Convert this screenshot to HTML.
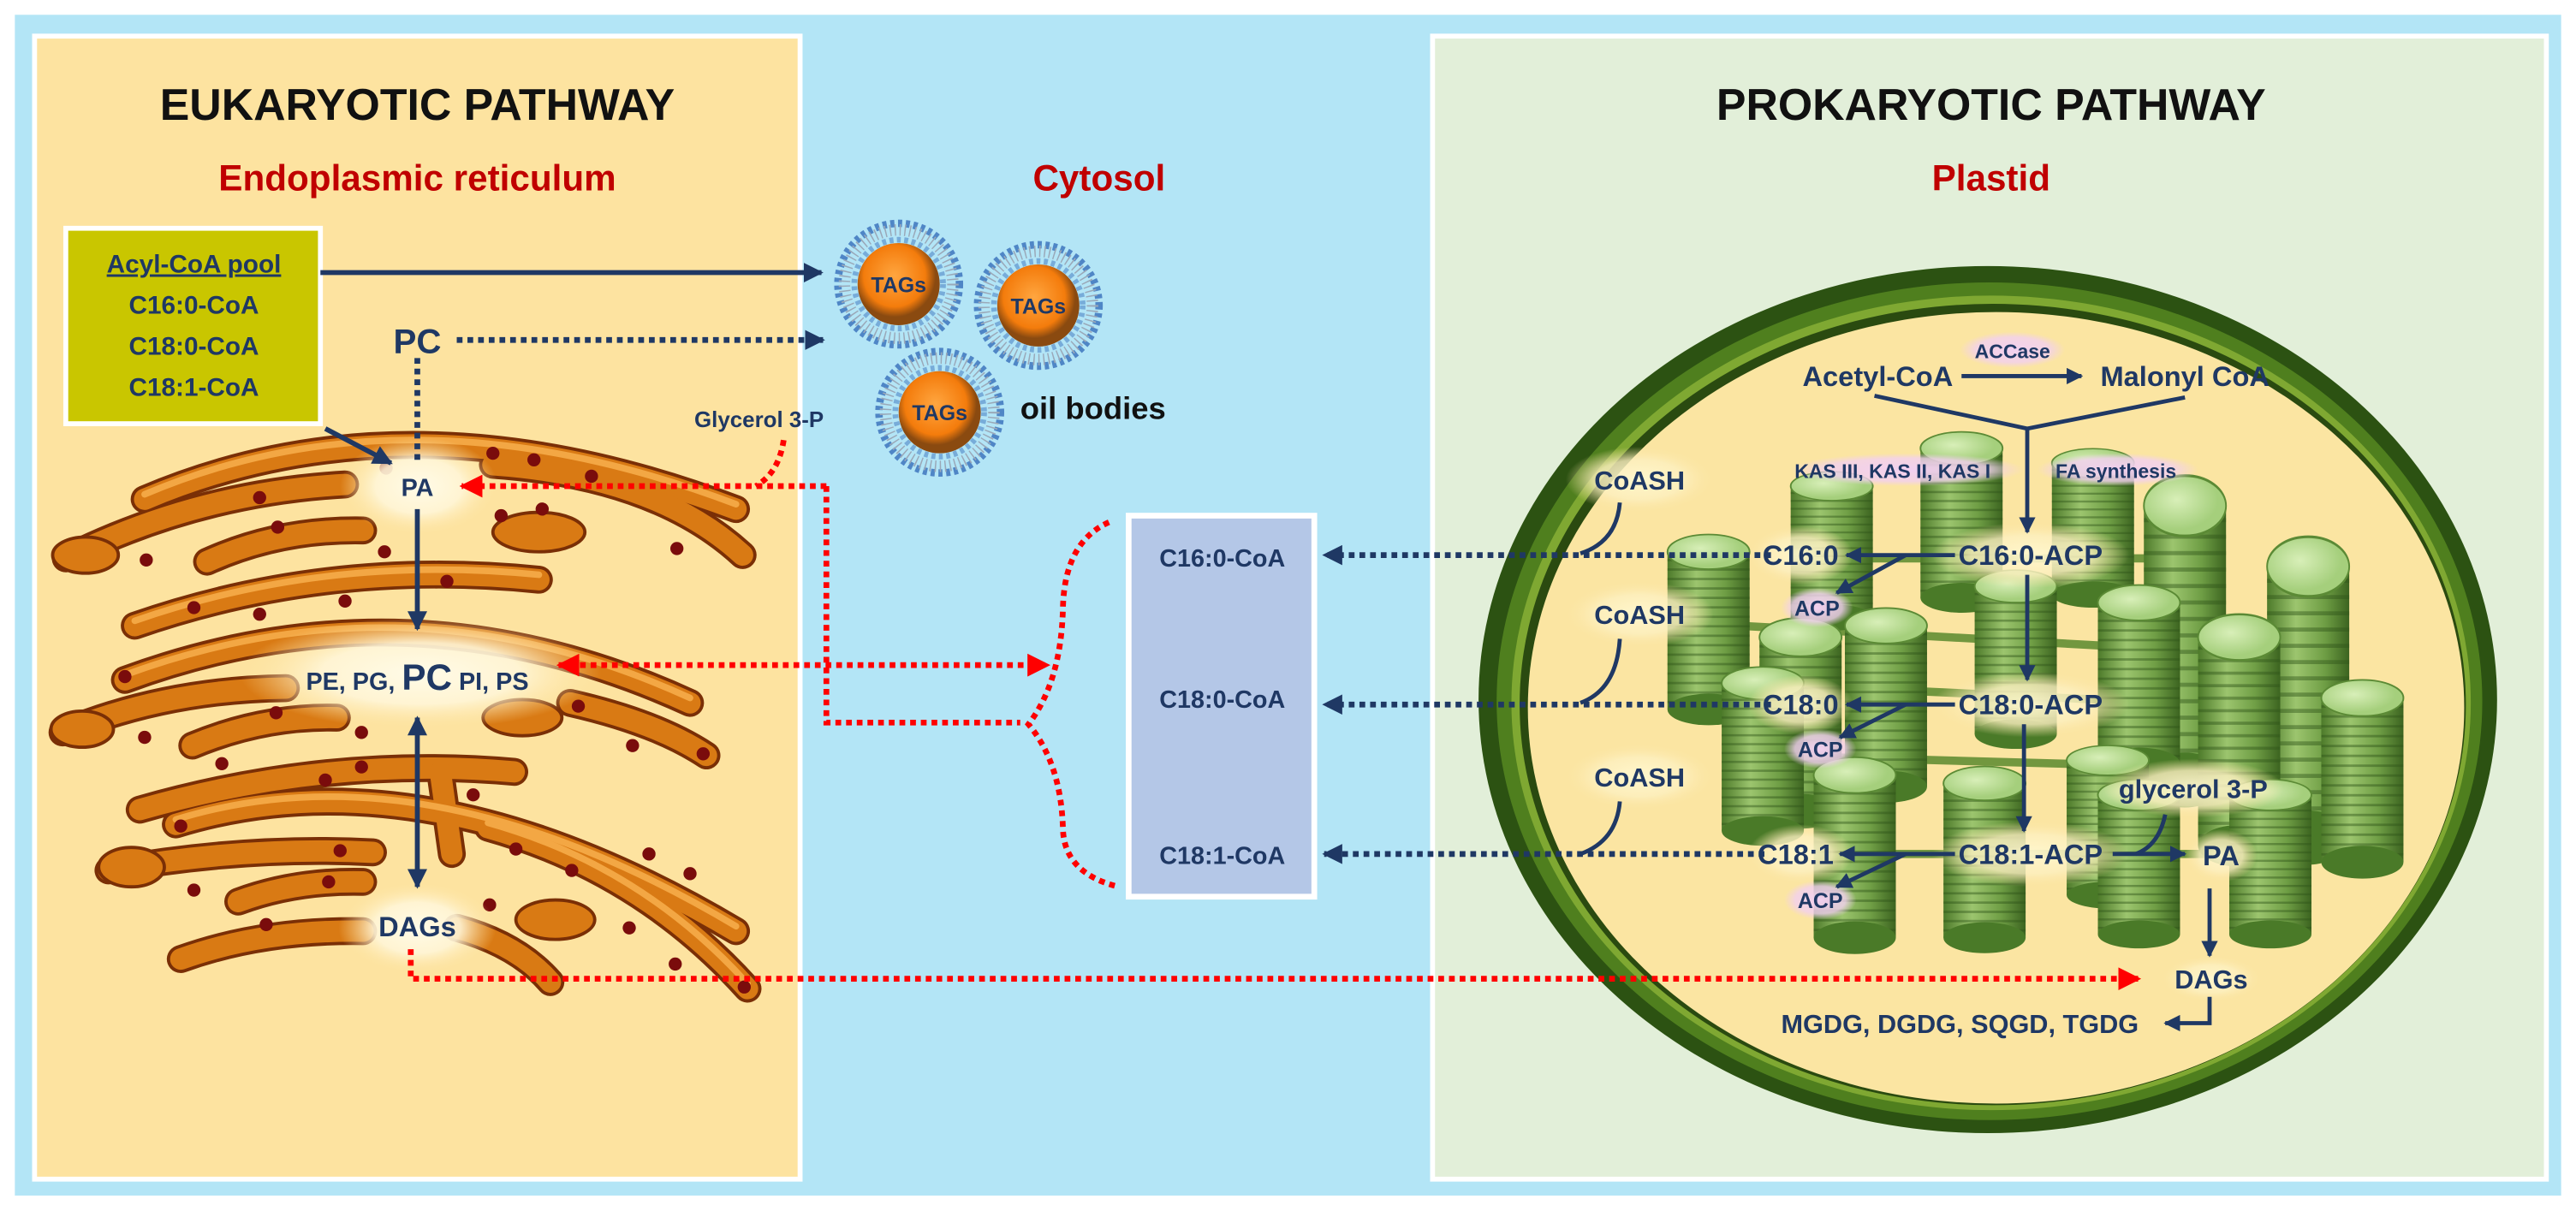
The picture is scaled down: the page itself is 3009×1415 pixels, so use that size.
<!DOCTYPE html>
<html><head><meta charset="utf-8">
<style>
html,body{margin:0;padding:0;background:#fff;}
svg{display:block;}
text{font-family:"Liberation Sans",sans-serif;font-weight:bold;}
</style></head>
<body>
<svg width="3009" height="1415" viewBox="0 0 1568 737.4" xmlns="http://www.w3.org/2000/svg">
<defs>
<marker id="an" viewBox="0 0 10 10" refX="9" refY="5" markerWidth="4" markerHeight="4" orient="auto-start-reverse" markerUnits="strokeWidth"><path d="M0,0 L10,5 L0,10 z" fill="#1f3864"/></marker>
<marker id="an2" viewBox="0 0 10 10" refX="9" refY="5" markerWidth="3.5" markerHeight="3.5" orient="auto-start-reverse" markerUnits="strokeWidth"><path d="M0,0 L10,5 L0,10 z" fill="#1f3864"/></marker>
<marker id="ar" viewBox="0 0 10 10" refX="9" refY="5" markerWidth="4" markerHeight="4" orient="auto-start-reverse" markerUnits="strokeWidth"><path d="M0,0 L10,5 L0,10 z" fill="#ff0000"/></marker>
<radialGradient id="glow"><stop offset="0" stop-color="#fffbe8" stop-opacity="1"/><stop offset="0.55" stop-color="#fff6d8" stop-opacity="0.9"/><stop offset="1" stop-color="#fde3a0" stop-opacity="0"/></radialGradient>
<radialGradient id="gglow"><stop offset="0" stop-color="#fff8d0" stop-opacity="0.95"/><stop offset="0.6" stop-color="#fdf0c0" stop-opacity="0.8"/><stop offset="1" stop-color="#fbe6a6" stop-opacity="0"/></radialGradient>
<radialGradient id="pglow"><stop offset="0" stop-color="#f2d0f0" stop-opacity="1"/><stop offset="0.7" stop-color="#f2d0f0" stop-opacity="0.8"/><stop offset="1" stop-color="#f2d0f0" stop-opacity="0"/></radialGradient>
<radialGradient id="tag" cx="0.45" cy="0.4"><stop offset="0" stop-color="#ffa640"/><stop offset="0.75" stop-color="#f47c0c"/><stop offset="1" stop-color="#8a4a10"/></radialGradient>
<linearGradient id="cyl" x1="0" x2="1"><stop offset="0" stop-color="#4d7a2a"/><stop offset="0.35" stop-color="#9cc56e"/><stop offset="0.7" stop-color="#6f9e45"/><stop offset="1" stop-color="#3c6420"/></linearGradient>
<radialGradient id="cyltop" cx="0.4" cy="0.4"><stop offset="0" stop-color="#d8efb8"/><stop offset="1" stop-color="#a5cf7c"/></radialGradient>
<pattern id="stripes" width="10" height="6" patternUnits="userSpaceOnUse"><rect width="10" height="6" fill="none"/><rect y="4.5" width="10" height="1.5" fill="#2f5418" opacity="0.45"/></pattern>
<g id="cy">
<rect x="-25" y="0" width="50" height="100" fill="url(#cyl)"/>
<rect x="-25" y="0" width="50" height="100" fill="url(#stripes)"/>
<ellipse cx="0" cy="100" rx="25" ry="10" fill="#4a7a28"/>
<ellipse cx="0" cy="0" rx="25" ry="11" fill="url(#cyltop)" stroke="#5b8a35" stroke-width="1"/>
</g>
<g id="ob">
<circle r="37" fill="none" stroke="#4f86c6" stroke-width="4.5" stroke-dasharray="2.5 2.2"/>
<circle r="33" fill="none" stroke="#9aa8b8" stroke-width="7" stroke-dasharray="0.8 2.2"/>
<circle r="27" fill="none" stroke="#4f86c6" stroke-width="3.5" stroke-dasharray="2.4 2.1" opacity="0.6"/>
<circle r="25" fill="url(#tag)"/>
</g>
</defs>

<rect x="0" y="0" width="1568" height="737.4" fill="#ffffff"/>
<rect x="9" y="9" width="1550" height="719" fill="#b3e5f6"/>
<rect x="21" y="22" width="466" height="696" fill="#fde3a0" stroke="#ffffff" stroke-width="3"/>
<rect x="872" y="22" width="678" height="696" fill="#e2efd9" stroke="#ffffff" stroke-width="3"/>

<text x="254" y="73" font-size="27" text-anchor="middle" fill="#111">EUKARYOTIC PATHWAY</text>
<text x="254" y="116" font-size="22" text-anchor="middle" fill="#c00000">Endoplasmic reticulum</text>
<text x="669" y="116" font-size="22" text-anchor="middle" fill="#c00000">Cytosol</text>
<text x="1212" y="73" font-size="27" text-anchor="middle" fill="#111">PROKARYOTIC PATHWAY</text>
<text x="1212" y="116" font-size="22" text-anchor="middle" fill="#c00000">Plastid</text>

<!-- ER tubes -->
<g fill="none" stroke-linecap="round">
<g stroke="#7a2f06" stroke-width="17">
<path d="M88,304 Q250,235 448,310"/>
<path d="M300,283 Q400,290 452,338"/>
<path d="M40,340 Q120,300 210,295"/>
<path d="M126,342 Q170,322 221,323"/>
<path d="M82,381 Q200,340 328,353"/>
<path d="M76,414 Q250,350 420,428"/>
<path d="M38,446 Q100,420 174,419"/>
<path d="M117,454 Q160,436 205,437"/>
<path d="M347,428 Q400,440 430,460"/>
<path d="M85,493 Q200,460 313,470"/>
<path d="M107,502 Q260,455 448,567"/>
<path d="M66,530 Q150,515 227,519"/>
<path d="M145,549 Q180,536 221,537"/>
<path d="M110,584 Q160,566 221,567"/>
<path d="M278,565 Q315,575 335,598"/>
<path d="M297,504 Q390,530 455,602"/>
<path d="M268,470 L275,520"/>
</g>
<g stroke="#d97a14" stroke-width="13">
<path d="M88,304 Q250,235 448,310"/>
<path d="M300,283 Q400,290 452,338"/>
<path d="M40,340 Q120,300 210,295"/>
<path d="M126,342 Q170,322 221,323"/>
<path d="M82,381 Q200,340 328,353"/>
<path d="M76,414 Q250,350 420,428"/>
<path d="M38,446 Q100,420 174,419"/>
<path d="M117,454 Q160,436 205,437"/>
<path d="M347,428 Q400,440 430,460"/>
<path d="M85,493 Q200,460 313,470"/>
<path d="M107,502 Q260,455 448,567"/>
<path d="M66,530 Q150,515 227,519"/>
<path d="M145,549 Q180,536 221,537"/>
<path d="M110,584 Q160,566 221,567"/>
<path d="M278,565 Q315,575 335,598"/>
<path d="M297,504 Q390,530 455,602"/>
<path d="M268,470 L275,520"/>
</g>
<g stroke="#f3a744" stroke-width="4">
<path d="M88,301 Q250,232 448,307"/>
<path d="M82,378 Q200,337 328,350"/>
<path d="M76,411 Q250,347 420,425"/>
<path d="M107,499 Q260,452 448,564"/>
<path d="M297,501 Q390,527 455,599"/>
</g>
</g>
<g fill="#d97a14" stroke="#7a2f06" stroke-width="2">
<ellipse cx="52" cy="338" rx="20" ry="11"/>
<ellipse cx="50" cy="444" rx="19" ry="11"/>
<ellipse cx="80" cy="528" rx="20" ry="12"/>
<ellipse cx="328" cy="324" rx="28" ry="12"/>
<ellipse cx="318" cy="437" rx="24" ry="11"/>
<ellipse cx="338" cy="560" rx="24" ry="12"/>
</g>
<g fill="#7a0c0c">
<circle cx="158" cy="303" r="4"/><circle cx="89" cy="341" r="4"/><circle cx="169" cy="321" r="4"/><circle cx="235" cy="285" r="4"/><circle cx="300" cy="276" r="4"/><circle cx="325" cy="280" r="4"/><circle cx="360" cy="290" r="4"/><circle cx="330" cy="310" r="4"/><circle cx="305" cy="314" r="4"/><circle cx="412" cy="334" r="4"/><circle cx="234" cy="336" r="4"/><circle cx="272" cy="354" r="4"/><circle cx="118" cy="370" r="4"/><circle cx="158" cy="374" r="4"/><circle cx="210" cy="366" r="4"/><circle cx="76" cy="412" r="4"/><circle cx="88" cy="449" r="4"/><circle cx="168" cy="434" r="4"/><circle cx="220" cy="446" r="4"/><circle cx="352" cy="430" r="4"/><circle cx="385" cy="454" r="4"/><circle cx="428" cy="459" r="4"/><circle cx="135" cy="465" r="4"/><circle cx="198" cy="475" r="4"/><circle cx="220" cy="467" r="4"/><circle cx="288" cy="484" r="4"/><circle cx="110" cy="503" r="4"/><circle cx="207" cy="518" r="4"/><circle cx="200" cy="537" r="4"/><circle cx="118" cy="542" r="4"/><circle cx="162" cy="563" r="4"/><circle cx="314" cy="517" r="4"/><circle cx="348" cy="530" r="4"/><circle cx="395" cy="520" r="4"/><circle cx="420" cy="532" r="4"/><circle cx="298" cy="551" r="4"/><circle cx="383" cy="565" r="4"/><circle cx="411" cy="587" r="4"/><circle cx="453" cy="601" r="4"/>
</g>
<ellipse cx="255" cy="296" rx="48" ry="30" fill="url(#glow)"/>
<ellipse cx="256" cy="410" rx="110" ry="34" fill="url(#glow)"/>
<ellipse cx="254" cy="565" rx="48" ry="28" fill="url(#glow)"/>

<rect x="40" y="139" width="155" height="119" fill="#c9c600" stroke="#ffffff" stroke-width="3"/>
<g font-size="15.5" fill="#1f3864" text-anchor="middle">
<text x="118" y="166" text-decoration="underline">Acyl-CoA pool</text>
<text x="118" y="191">C16:0-CoA</text>
<text x="118" y="216">C18:0-CoA</text>
<text x="118" y="241">C18:1-CoA</text>
</g>

<line x1="195" y1="166" x2="500" y2="166" stroke="#1f3864" stroke-width="3" marker-end="url(#an)"/>
<line x1="278" y1="207" x2="501" y2="207" stroke="#1f3864" stroke-width="3.5" stroke-dasharray="3.5 3" marker-end="url(#an2)"/>
<line x1="254" y1="218" x2="254" y2="283" stroke="#1f3864" stroke-width="3.5" stroke-dasharray="3.5 3"/>
<line x1="198" y1="261" x2="238" y2="282" stroke="#1f3864" stroke-width="3" marker-end="url(#an)"/>
<line x1="254" y1="310" x2="254" y2="383" stroke="#1f3864" stroke-width="3" marker-end="url(#an)"/>
<line x1="254" y1="437" x2="254" y2="540" stroke="#1f3864" stroke-width="3" marker-start="url(#an)" marker-end="url(#an)"/>
<text x="254" y="215" font-size="21" text-anchor="middle" fill="#1f3864">PC</text>
<text x="254" y="302" font-size="15" text-anchor="middle" fill="#1f3864">PA</text>
<text x="254" y="420" text-anchor="middle" fill="#1f3864"><tspan font-size="15">PE, PG, </tspan><tspan font-size="22">PC</tspan><tspan font-size="15"> PI, PS</tspan></text>
<text x="254" y="570" font-size="17" text-anchor="middle" fill="#1f3864">DAGs</text>
<text x="462" y="260" font-size="13.5" text-anchor="middle" fill="#1f3864" font-weight="normal">Glycerol 3-P</text>

<g fill="none" stroke="#ff0000" stroke-width="3.5" stroke-dasharray="3.5 3">
<path d="M477,268 Q474,288 460,296"/>
<line x1="503" y1="296" x2="281" y2="296" marker-end="url(#ar)"/>
<path d="M503,296 L503,440 L621,440"/>
<line x1="340" y1="405" x2="638" y2="405" marker-start="url(#ar)" marker-end="url(#ar)"/>
<path d="M675,318 Q648,330 647,370 Q646,415 626,441 Q646,465 647,505 Q648,532 681,540"/>
</g>

<use href="#ob" x="547" y="173"/>
<use href="#ob" x="632" y="186"/>
<use href="#ob" x="572" y="251"/>
<g font-size="13" fill="#1f3864" text-anchor="middle">
<text x="547" y="178">TAGs</text><text x="632" y="191">TAGs</text><text x="572" y="256">TAGs</text>
</g>
<text x="621" y="255" font-size="19" fill="#111">oil bodies</text>

<rect x="687" y="314" width="113" height="232" fill="#b4c7e7" stroke="#ffffff" stroke-width="3.5"/>
<g font-size="15" fill="#1f3864" text-anchor="middle">
<text x="744" y="345">C16:0-CoA</text>
<text x="744" y="431">C18:0-CoA</text>
<text x="744" y="526">C18:1-CoA</text>
</g>

<!-- plastid -->
<ellipse cx="1210" cy="426" rx="310" ry="264" fill="#2c5212"/>
<ellipse cx="1211" cy="427" rx="300" ry="255" fill="#4f7f1e"/>
<ellipse cx="1212" cy="428" rx="292" ry="248" fill="#7fa832"/>
<ellipse cx="1213" cy="429" rx="288" ry="244" fill="#2a4a10"/>
<ellipse cx="1215" cy="431" rx="285" ry="241" fill="#fbe5a2"/>

<g stroke="#5b8a2e" stroke-width="5" opacity="0.85">
<line x1="1115" y1="340" x2="1330" y2="340"/>
<line x1="1040" y1="380" x2="1405" y2="400"/>
<line x1="1073" y1="460" x2="1438" y2="470"/>
<line x1="1148" y1="420" x2="1363" y2="430"/>
<line x1="1129" y1="520" x2="1382" y2="520"/>
</g>
<use href="#cy" transform="translate(1194,273) scale(1,0.91)"/>
<use href="#cy" transform="translate(1274,282) scale(1,0.8)"/>
<use href="#cy" transform="translate(1115,296) scale(1,0.8)"/>
<use href="#cy" transform="translate(1330,308) scale(1,1.67)"/>
<use href="#cy" transform="translate(1040,336) scale(1,0.96)"/>
<use href="#cy" transform="translate(1405,345) scale(1,1.65)"/>
<use href="#cy" transform="translate(1227,357) scale(1,0.9)"/>
<use href="#cy" transform="translate(1302,367) scale(1,0.98)"/>
<use href="#cy" transform="translate(1148,381) scale(1,0.98)"/>
<use href="#cy" transform="translate(1096,388) scale(1,1.06)"/>
<use href="#cy" transform="translate(1363,388) scale(1,1.27)"/>
<use href="#cy" transform="translate(1073,416) scale(1,0.9)"/>
<use href="#cy" transform="translate(1438,425) scale(1,1.0)"/>
<use href="#cy" transform="translate(1283,463) scale(1,0.82)"/>
<use href="#cy" transform="translate(1129,472) scale(1,0.99)"/>
<use href="#cy" transform="translate(1208,477) scale(1,0.94)"/>
<use href="#cy" transform="translate(1302,484) scale(1,0.85)"/>
<use href="#cy" transform="translate(1382,484) scale(1,0.85)"/>

<ellipse cx="998" cy="292" rx="45" ry="20" fill="url(#gglow)"/>
<ellipse cx="998" cy="374" rx="45" ry="20" fill="url(#gglow)"/>
<ellipse cx="998" cy="473" rx="45" ry="20" fill="url(#gglow)"/>
<ellipse cx="1236" cy="338" rx="60" ry="20" fill="url(#gglow)"/>
<ellipse cx="1236" cy="429" rx="60" ry="20" fill="url(#gglow)"/>
<ellipse cx="1236" cy="520" rx="60" ry="20" fill="url(#gglow)"/>
<ellipse cx="1096" cy="338" rx="32" ry="18" fill="url(#gglow)"/>
<ellipse cx="1096" cy="429" rx="32" ry="18" fill="url(#gglow)"/>
<ellipse cx="1096" cy="520" rx="32" ry="18" fill="url(#gglow)"/>
<ellipse cx="1335" cy="480" rx="55" ry="18" fill="url(#gglow)"/>
<ellipse cx="1352" cy="521" rx="22" ry="16" fill="url(#gglow)"/>
<ellipse cx="1346" cy="596" rx="30" ry="14" fill="url(#gglow)"/>
<rect x="1090" y="276" width="142" height="20" rx="8" fill="url(#pglow)"/>
<rect x="1240" y="276" width="98" height="20" rx="8" fill="url(#pglow)"/>
<ellipse cx="1225" cy="213" rx="32" ry="11" fill="url(#pglow)"/>
<ellipse cx="1106" cy="370" rx="22" ry="12" fill="url(#pglow)"/>
<ellipse cx="1108" cy="456" rx="22" ry="12" fill="url(#pglow)"/>
<ellipse cx="1108" cy="548" rx="22" ry="12" fill="url(#pglow)"/>

<!-- red DAG line on top -->
<path d="M250,578 L250,596 L1302,596" fill="none" stroke="#ff0000" stroke-width="3.5" stroke-dasharray="3.5 3" marker-end="url(#ar)"/>

<g fill="#1f3864">
<text x="1143" y="235" font-size="17" text-anchor="middle">Acetyl-CoA</text>
<text x="1330" y="235" font-size="17" text-anchor="middle">Malonyl CoA</text>
<text x="1225" y="218" font-size="12" text-anchor="middle">ACCase</text>
<text x="1152" y="291" font-size="12" text-anchor="middle">KAS III, KAS II, KAS I</text>
<text x="1288" y="291" font-size="12" text-anchor="middle">FA synthesis</text>
<text x="998" y="298" font-size="16" text-anchor="middle">CoASH</text>
<text x="998" y="380" font-size="16" text-anchor="middle">CoASH</text>
<text x="998" y="479" font-size="16" text-anchor="middle">CoASH</text>
<text x="1236" y="344" font-size="17" text-anchor="middle">C16:0-ACP</text>
<text x="1236" y="435" font-size="17" text-anchor="middle">C18:0-ACP</text>
<text x="1236" y="526" font-size="17" text-anchor="middle">C18:1-ACP</text>
<text x="1096" y="344" font-size="17" text-anchor="middle">C16:0</text>
<text x="1096" y="435" font-size="17" text-anchor="middle">C18:0</text>
<text x="1093" y="526" font-size="17" text-anchor="middle">C18:1</text>
<text x="1106" y="375" font-size="13" text-anchor="middle">ACP</text>
<text x="1108" y="461" font-size="13" text-anchor="middle">ACP</text>
<text x="1108" y="553" font-size="13" text-anchor="middle">ACP</text>
<text x="1335" y="486" font-size="16" text-anchor="middle">glycerol 3-P</text>
<text x="1352" y="527" font-size="17" text-anchor="middle">PA</text>
<text x="1346" y="602" font-size="16" text-anchor="middle">DAGs</text>
<text x="1193" y="629" font-size="16" text-anchor="middle">MGDG, DGDG, SQGD, TGDG</text>
</g>
<g fill="none" stroke="#1f3864" stroke-width="2.5">
<line x1="1194" y1="229" x2="1267" y2="229" marker-end="url(#an)"/>
<path d="M1141,241 L1234,261 L1330,242"/>
<line x1="1234" y1="261" x2="1234" y2="324" marker-end="url(#an)"/>
<line x1="1234" y1="350" x2="1234" y2="414" marker-end="url(#an)"/>
<line x1="1232" y1="441" x2="1232" y2="506" marker-end="url(#an)"/>
<line x1="1190" y1="338" x2="1124" y2="338" marker-end="url(#an)"/>
<line x1="1160" y1="338" x2="1118" y2="361" marker-end="url(#an)"/>
<line x1="1190" y1="429" x2="1124" y2="429" marker-end="url(#an)"/>
<line x1="1160" y1="429" x2="1120" y2="449" marker-end="url(#an)"/>
<line x1="1190" y1="520" x2="1120" y2="520" marker-end="url(#an)"/>
<line x1="1160" y1="520" x2="1118" y2="540" marker-end="url(#an)"/>
<line x1="1286" y1="520" x2="1330" y2="520" marker-end="url(#an)"/>
<path d="M1318,496 Q1314,515 1300,520"/>
<line x1="1345" y1="541" x2="1345" y2="582" marker-end="url(#an)"/>
<path d="M1345,607 L1345,623 L1318,623" marker-end="url(#an)"/>
<path d="M986,306 Q984,330 962,337"/>
<path d="M986,389 Q984,420 962,428"/>
<path d="M986,488 Q984,512 962,520"/>
</g>
<g stroke="#1f3864" stroke-width="3.5" stroke-dasharray="3.5 3">
<line x1="1078" y1="338" x2="806" y2="338" marker-end="url(#an2)"/>
<line x1="1078" y1="429" x2="806" y2="429" marker-end="url(#an2)"/>
<line x1="1074" y1="520" x2="806" y2="520" marker-end="url(#an2)"/>
</g>
</svg>
</body></html>
